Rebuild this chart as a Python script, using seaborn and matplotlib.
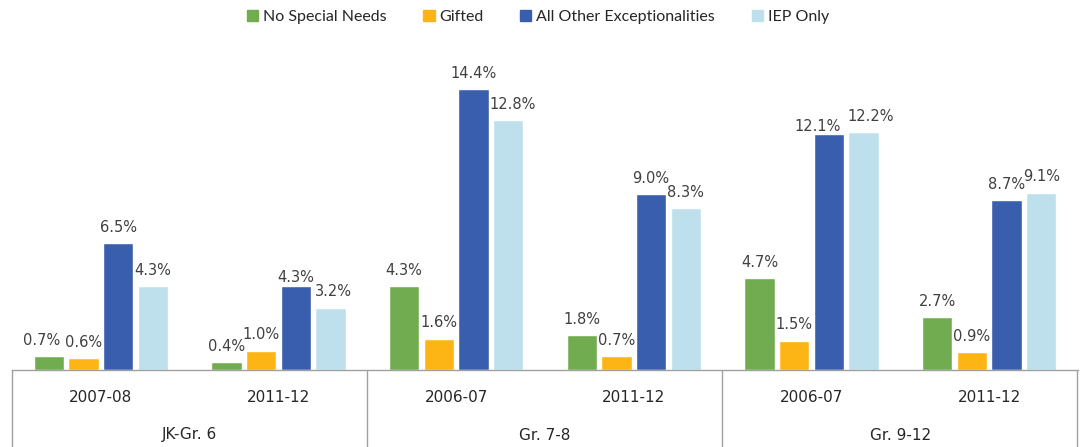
import matplotlib
matplotlib.use("Agg")
import matplotlib.pyplot as plt
import pandas as pd
import seaborn as sns

grades = ["JK-Gr. 6", "Gr. 7-8", "Gr. 9-12"]
years = ["2007-08", "2011-12", "2006-07", "2011-12", "2006-07", "2011-12"]
series = ["No Special Needs", "Gifted", "All Other Exceptionalities", "IEP Only"]
no_special = [0.7, 0.4, 4.3, 1.8, 4.7, 2.7]
gifted = [0.6, 1.0, 1.6, 0.7, 1.5, 0.9]
other_exc = [6.5, 4.3, 14.4, 9.0, 12.1, 8.7]
iep_only = [4.3, 3.2, 12.8, 8.3, 12.2, 9.1]
colors = ["#72AC50", "#FDB515", "#3A5EAE", "#BEE0EC"]

rows = []
for name, vals in zip(series, [no_special, gifted, other_exc, iep_only]):
    for i, v in enumerate(vals):
        rows.append({"slot": i, "series": name, "value": v})
df = pd.DataFrame(rows)

sns.set_theme(style="white")
plt.rcParams["font.family"] = ["DejaVu Sans"]

fig = plt.figure(figsize=(10.84, 4.47), dpi=100)
ax = fig.add_axes([12 / 1084, 77 / 447, 1066 / 1084, 320 / 447])

sns.barplot(data=df, x="slot", y="value", hue="series", hue_order=series,
            palette=colors, saturation=1, width=0.78, gap=0.12, ax=ax, legend=False)

# label nudges (in points) where the original shifts labels apart
nudges = {(0, 0): (-5, 0), (2, 1): (0, -5), (3, 1): (2, 0),
          (2, 4): (-8, -6), (3, 4): (5, 0), (3, 2): (3, 0)}
for si, cont in enumerate(ax.containers):
    anns = ax.bar_label(cont, fmt="%.1f%%", padding=6, fontsize=10.5, color="#404040")
    for slot, ann in enumerate(anns):
        dx, dy = nudges.get((si, slot), (0, 0))
        ann.xyann = (dx, 6 + dy)

ax.set_ylim(0, 320 / 19.5)
ax.set_xlim(-0.5, 5.5)
ax.set_xticks([])
ax.set_yticks([])
ax.set_xlabel("")
ax.set_ylabel("")
for s in ["top", "left", "right"]:
    ax.spines[s].set_visible(False)
ax.spines["bottom"].set_color("#A0A0A0")
ax.spines["bottom"].set_linewidth(1)

# two-level category axis below the plot
line_kw = dict(color="#A0A0A0", lw=1, transform=fig.transFigure, clip_on=False)
for xp in [12, 367, 722, 1077]:
    fig.add_artist(plt.Line2D([xp / 1084, xp / 1084], [0, 77 / 447], **line_kw))

for i, yr in enumerate(years):
    ax.text(i, -27 / 19.5, yr, ha="center", va="center", fontsize=11, color="#262626")
for g, name in enumerate(grades):
    ax.text(2 * g + 0.5, -65 / 19.5, name, ha="center", va="center", fontsize=11, color="#262626")

handles = [plt.Rectangle((0, 0), 1, 1, color=c) for c in colors]
fig.legend(handles, series, loc="center", bbox_to_anchor=(538 / 1084, 1 - 17 / 447),
           ncol=4, frameon=False, handlelength=0.7, handleheight=0.7,
           handletextpad=0.3, columnspacing=2.3, prop={"family": "Lato", "size": 11.5})

fig.savefig("out.png", dpi=100)
